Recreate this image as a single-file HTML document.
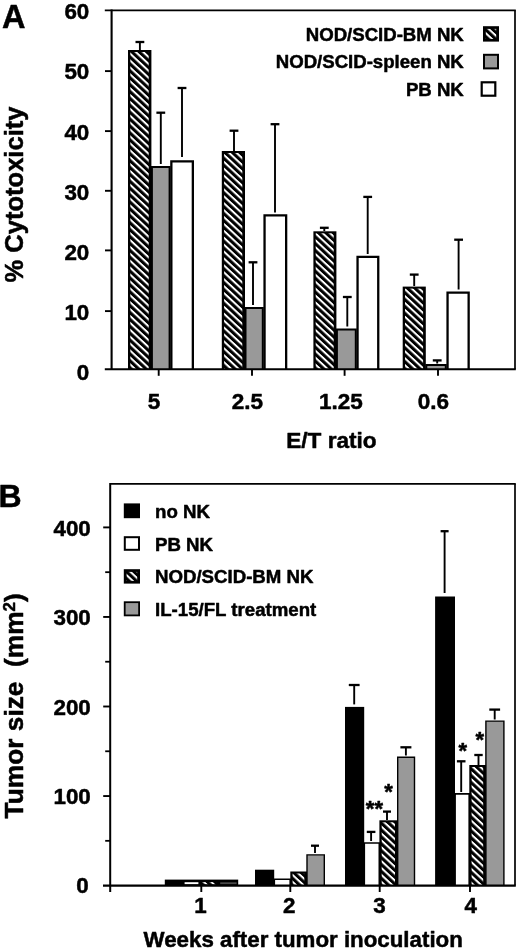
<!DOCTYPE html>
<html><head><meta charset="utf-8"><title>Figure</title>
<style>
html,body{margin:0;padding:0;background:#fff;}
svg{display:block;filter:blur(0.3px);}
text{font-family:"Liberation Sans",Arial,Helvetica,sans-serif;font-weight:bold;fill:#000;stroke:#000;stroke-width:0.5px;stroke-linejoin:round;}
</style></head><body>
<svg width="520" height="951" viewBox="0 0 520 951">
<defs>
<pattern id="h" patternUnits="userSpaceOnUse" width="5.05" height="5.05" patternTransform="rotate(43)">
<rect x="0" y="0" width="5.05" height="5.05" fill="#000"/>
<rect x="0" y="0" width="5.4" height="2.0" fill="#fff"/>
</pattern>
</defs>
<rect x="0" y="0" width="520" height="951" fill="#fff"/>

<text x="2.0" y="28.4" font-size="32.5" text-anchor="start" >A</text>
<text transform="translate(23.3,194.5) rotate(-90) scale(0.975,1)" font-size="26.2" text-anchor="middle">% Cytotoxicity</text>
<path d="M151.90,369.3 V167.00 H169.60 V369.3" fill="#999" stroke="#000" stroke-width="2.0" stroke-linejoin="miter"/>
<path d="M171.35,369.3 V161.35 H192.85 V369.3" fill="#fff" stroke="#000" stroke-width="2.3" stroke-linejoin="miter"/>
<rect x="128.0" y="50.0" width="23.40" height="319.30" fill="#000"/>
<rect x="130.30" y="52.00" width="18.40" height="317.30" fill="url(#h)"/>
<path d="M245.50,369.3 V308.00 H262.80 V369.3" fill="#999" stroke="#000" stroke-width="2.0" stroke-linejoin="miter"/>
<path d="M264.55,369.3 V215.35 H286.15 V369.3" fill="#fff" stroke="#000" stroke-width="2.3" stroke-linejoin="miter"/>
<rect x="221.8" y="151.0" width="23.20" height="218.30" fill="#000"/>
<rect x="224.10" y="153.00" width="18.20" height="216.30" fill="url(#h)"/>
<path d="M336.90,369.3 V329.50 H355.80 V369.3" fill="#999" stroke="#000" stroke-width="2.0" stroke-linejoin="miter"/>
<path d="M357.55,369.3 V256.85 H378.25 V369.3" fill="#fff" stroke="#000" stroke-width="2.3" stroke-linejoin="miter"/>
<rect x="313.4" y="231.3" width="23.00" height="138.00" fill="#000"/>
<rect x="315.70" y="233.30" width="18.00" height="136.00" fill="url(#h)"/>
<path d="M426.30,369.3 V365.00 H445.80 V369.3" fill="#999" stroke="#000" stroke-width="2.0" stroke-linejoin="miter"/>
<path d="M447.55,369.3 V292.55 H468.65 V369.3" fill="#fff" stroke="#000" stroke-width="2.3" stroke-linejoin="miter"/>
<rect x="402.7" y="286.6" width="23.10" height="82.70" fill="#000"/>
<rect x="405.00" y="288.60" width="18.10" height="80.70" fill="url(#h)"/>
<line x1="139.9" y1="42.0" x2="139.9" y2="50.0" stroke="#000" stroke-width="1.9"/>
<line x1="135.5" y1="42.0" x2="144.3" y2="42.0" stroke="#000" stroke-width="2.3"/>
<line x1="160.8" y1="112.7" x2="160.8" y2="164.0" stroke="#000" stroke-width="1.9"/>
<line x1="156.4" y1="112.7" x2="165.20000000000002" y2="112.7" stroke="#000" stroke-width="2.3"/>
<line x1="182.0" y1="88.0" x2="182.0" y2="157.0" stroke="#000" stroke-width="1.9"/>
<line x1="177.6" y1="88.0" x2="186.4" y2="88.0" stroke="#000" stroke-width="2.3"/>
<line x1="234.0" y1="130.7" x2="234.0" y2="151.0" stroke="#000" stroke-width="1.9"/>
<line x1="229.6" y1="130.7" x2="238.4" y2="130.7" stroke="#000" stroke-width="2.3"/>
<line x1="253.0" y1="262.3" x2="253.0" y2="305.0" stroke="#000" stroke-width="1.9"/>
<line x1="248.6" y1="262.3" x2="257.4" y2="262.3" stroke="#000" stroke-width="2.3"/>
<line x1="275.0" y1="124.2" x2="275.0" y2="212.5" stroke="#000" stroke-width="1.9"/>
<line x1="270.6" y1="124.2" x2="279.4" y2="124.2" stroke="#000" stroke-width="2.3"/>
<line x1="324.3" y1="227.8" x2="324.3" y2="231.0" stroke="#000" stroke-width="1.9"/>
<line x1="319.90000000000003" y1="227.8" x2="328.7" y2="227.8" stroke="#000" stroke-width="2.3"/>
<line x1="347.3" y1="297.0" x2="347.3" y2="326.5" stroke="#000" stroke-width="1.9"/>
<line x1="342.90000000000003" y1="297.0" x2="351.7" y2="297.0" stroke="#000" stroke-width="2.3"/>
<line x1="367.7" y1="196.9" x2="367.7" y2="254.0" stroke="#000" stroke-width="1.9"/>
<line x1="363.3" y1="196.9" x2="372.09999999999997" y2="196.9" stroke="#000" stroke-width="2.3"/>
<line x1="414.2" y1="274.6" x2="414.2" y2="286.0" stroke="#000" stroke-width="1.9"/>
<line x1="409.8" y1="274.6" x2="418.59999999999997" y2="274.6" stroke="#000" stroke-width="2.3"/>
<line x1="437.2" y1="360.4" x2="437.2" y2="363.5" stroke="#000" stroke-width="1.9"/>
<line x1="432.8" y1="360.4" x2="441.59999999999997" y2="360.4" stroke="#000" stroke-width="2.3"/>
<line x1="458.6" y1="239.7" x2="458.6" y2="289.5" stroke="#000" stroke-width="1.9"/>
<line x1="454.20000000000005" y1="239.7" x2="463.0" y2="239.7" stroke="#000" stroke-width="2.3"/>
<line x1="111.6" y1="9.4" x2="111.6" y2="369.3" stroke="#000" stroke-width="2.1"/>
<line x1="104.8" y1="10.3" x2="515.8" y2="10.3" stroke="#000" stroke-width="1.8"/>
<line x1="515.0" y1="10.3" x2="515.0" y2="369.3" stroke="#000" stroke-width="1.7"/>
<line x1="104.8" y1="369.3" x2="515.8" y2="369.3" stroke="#000" stroke-width="2.1"/>
<line x1="105.0" y1="71.1" x2="111.6" y2="71.1" stroke="#000" stroke-width="1.9"/>
<line x1="105.0" y1="131.1" x2="111.6" y2="131.1" stroke="#000" stroke-width="1.9"/>
<line x1="105.0" y1="190.8" x2="111.6" y2="190.8" stroke="#000" stroke-width="1.9"/>
<line x1="105.0" y1="250.4" x2="111.6" y2="250.4" stroke="#000" stroke-width="1.9"/>
<line x1="105.0" y1="311.1" x2="111.6" y2="311.1" stroke="#000" stroke-width="1.9"/>
<text x="89.3" y="18.7" font-size="22.4" text-anchor="end" >60</text>
<text x="89.3" y="79.1" font-size="22.4" text-anchor="end" >50</text>
<text x="89.3" y="139.7" font-size="22.4" text-anchor="end" >40</text>
<text x="89.3" y="199.9" font-size="22.4" text-anchor="end" >30</text>
<text x="89.3" y="260.2" font-size="22.4" text-anchor="end" >20</text>
<text x="89.3" y="319.5" font-size="22.4" text-anchor="end" >10</text>
<text x="89.3" y="379.7" font-size="22.4" text-anchor="end" >0</text>
<line x1="158.7" y1="369.3" x2="158.7" y2="375.8" stroke="#000" stroke-width="1.9"/>
<line x1="252.0" y1="369.3" x2="252.0" y2="375.8" stroke="#000" stroke-width="1.9"/>
<line x1="344.6" y1="369.3" x2="344.6" y2="375.8" stroke="#000" stroke-width="1.9"/>
<line x1="438.0" y1="369.3" x2="438.0" y2="375.8" stroke="#000" stroke-width="1.9"/>
<text x="154.0" y="409.1" font-size="22.5" text-anchor="middle" >5</text>
<text x="247.3" y="409.1" font-size="22.5" text-anchor="middle" >2.5</text>
<text x="341.0" y="409.1" font-size="22.5" text-anchor="middle" >1.25</text>
<text x="433.4" y="409.1" font-size="22.5" text-anchor="middle" >0.6</text>
<text x="331.4" y="448.1" font-size="22.6" text-anchor="middle" >E/T ratio</text>
<text x="463.8" y="40.7" font-size="18.6" text-anchor="end" >NOD/SCID-BM NK</text>
<text x="463.8" y="68.3" font-size="18.6" text-anchor="end" >NOD/SCID-spleen NK</text>
<text x="463.8" y="95.9" font-size="18.6" text-anchor="end" >PB NK</text>
<rect x="483" y="26.2" width="16" height="15.4" fill="#000"/>
<rect x="485.8" y="28.9" width="10.4" height="10.0" fill="url(#h)"/>
<rect x="484" y="54.8" width="14" height="13.6" fill="#999" stroke="#000" stroke-width="2"/>
<rect x="481.7" y="82.3" width="13.6" height="13.4" fill="#fff" stroke="#000" stroke-width="2.2"/>
<text x="-1.4" y="506.6" font-size="32" text-anchor="start" >B</text>
<text transform="translate(22.6,705.8) rotate(-90)" font-size="26.3" text-anchor="middle" xml:space="preserve">Tumor size  (mm<tspan font-size="17" dy="-7.2">2</tspan><tspan dy="7.2">)</tspan></text>
<rect x="164.8" y="879.6" width="73.4" height="6" fill="#000"/>
<rect x="184.6" y="882.2" width="13.8" height="2.0" fill="#fff"/>
<rect x="201.8" y="882.1" width="15" height="2.2" fill="url(#h)"/>
<rect x="220.2" y="882.3" width="16.4" height="1.9" fill="#4a4a4a"/>
<path d="M307.00,885.6 V854.90 H324.30 V885.6" fill="#999" stroke="#000" stroke-width="1.4" stroke-linejoin="miter"/>
<path d="M274.30,885.6 V879.30 H290.20 V885.6" fill="#fff" stroke="#000" stroke-width="1.6" stroke-linejoin="miter"/>
<rect x="290.3" y="871.5" width="16.70" height="14.10" fill="#000"/>
<rect x="292.60" y="873.50" width="11.70" height="12.10" fill="url(#h)"/>
<rect x="255.0" y="869.7" width="19.20" height="15.90" fill="#000"/>
<path d="M397.70,885.6 V757.20 H414.50 V885.6" fill="#999" stroke="#000" stroke-width="1.4" stroke-linejoin="miter"/>
<path d="M364.30,885.6 V843.00 H379.30 V885.6" fill="#fff" stroke="#000" stroke-width="1.6" stroke-linejoin="miter"/>
<rect x="379.4" y="820.3" width="18.30" height="65.30" fill="#000"/>
<rect x="381.70" y="822.30" width="13.30" height="63.30" fill="url(#h)"/>
<rect x="345.0" y="706.9" width="19.20" height="178.70" fill="#000"/>
<path d="M485.90,885.6 V721.10 H503.90 V885.6" fill="#999" stroke="#000" stroke-width="1.4" stroke-linejoin="miter"/>
<path d="M455.10,885.6 V793.90 H469.20 V885.6" fill="#fff" stroke="#000" stroke-width="1.6" stroke-linejoin="miter"/>
<rect x="469.3" y="765.0" width="16.60" height="120.60" fill="#000"/>
<rect x="471.60" y="767.00" width="11.60" height="118.60" fill="url(#h)"/>
<rect x="435.1" y="596.5" width="19.90" height="289.10" fill="#000"/>
<line x1="315.0" y1="845.7" x2="315.0" y2="853.0" stroke="#000" stroke-width="1.9"/>
<line x1="311.0" y1="845.7" x2="319.0" y2="845.7" stroke="#000" stroke-width="2.3"/>
<line x1="354.2" y1="685.0" x2="354.2" y2="704.4" stroke="#000" stroke-width="1.9"/>
<line x1="348.8" y1="685.0" x2="359.59999999999997" y2="685.0" stroke="#000" stroke-width="2.3"/>
<line x1="371.1" y1="831.9" x2="371.1" y2="841.0" stroke="#000" stroke-width="1.9"/>
<line x1="366.8" y1="831.9" x2="375.40000000000003" y2="831.9" stroke="#000" stroke-width="2.3"/>
<line x1="387.0" y1="811.6" x2="387.0" y2="820.0" stroke="#000" stroke-width="1.9"/>
<line x1="383.0" y1="811.6" x2="391.0" y2="811.6" stroke="#000" stroke-width="2.3"/>
<line x1="405.9" y1="747.3" x2="405.9" y2="755.5" stroke="#000" stroke-width="1.9"/>
<line x1="400.4" y1="747.3" x2="411.4" y2="747.3" stroke="#000" stroke-width="2.3"/>
<line x1="444.6" y1="531.2" x2="444.6" y2="593.0" stroke="#000" stroke-width="1.9"/>
<line x1="440.6" y1="531.2" x2="448.6" y2="531.2" stroke="#000" stroke-width="2.3"/>
<line x1="461.2" y1="761.3" x2="461.2" y2="792.0" stroke="#000" stroke-width="1.9"/>
<line x1="456.9" y1="761.3" x2="465.5" y2="761.3" stroke="#000" stroke-width="2.3"/>
<line x1="478.5" y1="755.0" x2="478.5" y2="765.0" stroke="#000" stroke-width="1.9"/>
<line x1="474.3" y1="755.0" x2="482.7" y2="755.0" stroke="#000" stroke-width="2.3"/>
<line x1="494.7" y1="709.6" x2="494.7" y2="719.5" stroke="#000" stroke-width="1.9"/>
<line x1="489.3" y1="709.6" x2="500.09999999999997" y2="709.6" stroke="#000" stroke-width="2.3"/>
<line x1="110.2" y1="483.0" x2="110.2" y2="892.0" stroke="#000" stroke-width="2.0"/>
<line x1="110.2" y1="483.9" x2="515.8" y2="483.9" stroke="#000" stroke-width="1.8"/>
<line x1="515.0" y1="483.9" x2="515.0" y2="885.6" stroke="#000" stroke-width="1.7"/>
<line x1="103.0" y1="885.6" x2="515.8" y2="885.6" stroke="#000" stroke-width="2.1"/>
<line x1="103.2" y1="527.4000000000001" x2="110.2" y2="527.4000000000001" stroke="#000" stroke-width="1.9"/>
<line x1="103.2" y1="616.95" x2="110.2" y2="616.95" stroke="#000" stroke-width="1.9"/>
<line x1="103.2" y1="706.5" x2="110.2" y2="706.5" stroke="#000" stroke-width="1.9"/>
<line x1="103.2" y1="796.0500000000001" x2="110.2" y2="796.0500000000001" stroke="#000" stroke-width="1.9"/>
<line x1="105.2" y1="572.175" x2="110.2" y2="572.175" stroke="#000" stroke-width="1.8"/>
<line x1="105.2" y1="661.725" x2="110.2" y2="661.725" stroke="#000" stroke-width="1.8"/>
<line x1="105.2" y1="751.2750000000001" x2="110.2" y2="751.2750000000001" stroke="#000" stroke-width="1.8"/>
<line x1="105.2" y1="840.825" x2="110.2" y2="840.825" stroke="#000" stroke-width="1.8"/>
<text x="90.8" y="535.8000000000001" font-size="22.4" text-anchor="end" >400</text>
<text x="90.8" y="625.35" font-size="22.4" text-anchor="end" >300</text>
<text x="90.8" y="714.9" font-size="22.4" text-anchor="end" >200</text>
<text x="90.8" y="804.45" font-size="22.4" text-anchor="end" >100</text>
<text x="88.8" y="893.2" font-size="22.4" text-anchor="end" >0</text>
<line x1="201.3" y1="885.6" x2="201.3" y2="892.0" stroke="#000" stroke-width="1.9"/>
<line x1="290.3" y1="885.6" x2="290.3" y2="892.0" stroke="#000" stroke-width="1.9"/>
<line x1="379.7" y1="885.6" x2="379.7" y2="892.0" stroke="#000" stroke-width="1.9"/>
<line x1="470.0" y1="885.6" x2="470.0" y2="892.0" stroke="#000" stroke-width="1.9"/>
<text x="200.4" y="913.4" font-size="22.4" text-anchor="middle" >1</text>
<text x="289.3" y="913.4" font-size="22.4" text-anchor="middle" >2</text>
<text x="379.5" y="913.4" font-size="22.4" text-anchor="middle" >3</text>
<text x="470.7" y="913.4" font-size="22.4" text-anchor="middle" >4</text>
<text x="303.2" y="946.9" font-size="22.3" text-anchor="middle" >Weeks after tumor inoculation</text>
<text x="374.4" y="816.2" font-size="22" text-anchor="middle" font-weight="normal" stroke-width="0.3">**</text>
<text x="388.6" y="799.3" font-size="22" text-anchor="middle" font-weight="normal" stroke-width="0.3">*</text>
<text x="462.8" y="758.4" font-size="22" text-anchor="middle" font-weight="normal" stroke-width="0.3">*</text>
<text x="479.8" y="747.0" font-size="22" text-anchor="middle" font-weight="normal" stroke-width="0.3">*</text>
<rect x="123.8" y="503.4" width="16.2" height="14.8" fill="#000"/>
<rect x="124.8" y="537.2" width="14.2" height="12.6" fill="#fff" stroke="#000" stroke-width="2"/>
<rect x="123.8" y="569.2" width="16.2" height="14.4" fill="#000"/>
<rect x="126.6" y="571.9" width="10.6" height="9.0" fill="url(#h)"/>
<rect x="124.7" y="602.2" width="14.4" height="13.2" fill="#999" stroke="#000" stroke-width="1.8"/>
<text x="155.0" y="517.7" font-size="18.65" text-anchor="start" >no NK</text>
<text x="155.0" y="550.5" font-size="18.65" text-anchor="start" >PB NK</text>
<text x="155.0" y="583.0" font-size="18.65" text-anchor="start" >NOD/SCID-BM NK</text>
<text x="155.0" y="615.9" font-size="18.65" text-anchor="start" >IL-15/FL treatment</text>
</svg>
</body></html>
